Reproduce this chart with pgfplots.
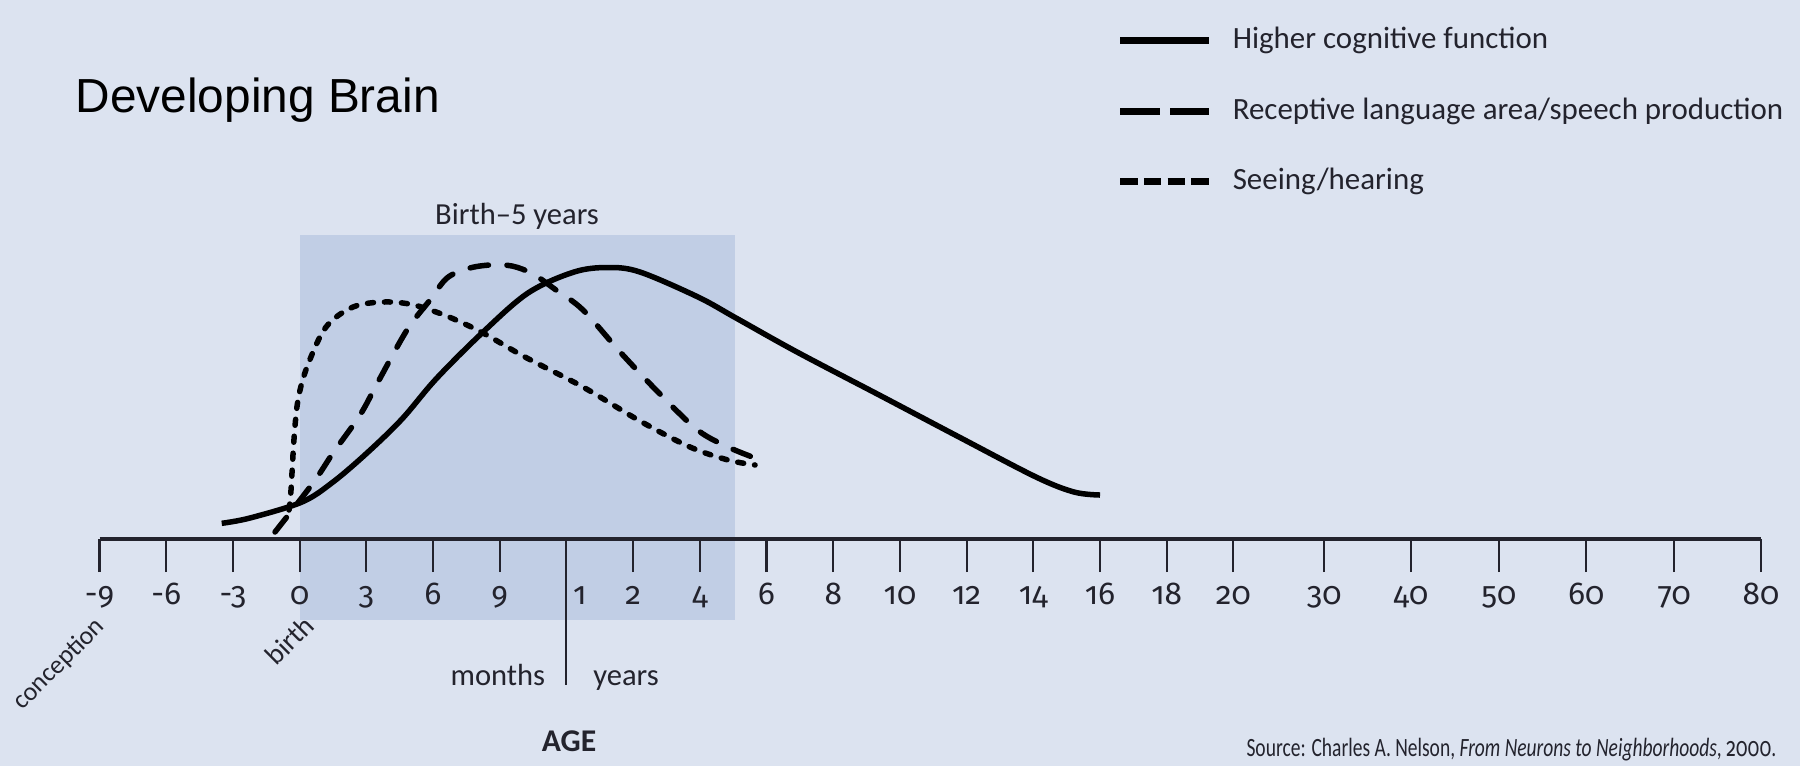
\documentclass[border=0pt]{standalone}
\usepackage{fontspec}
\setmainfont{Carlito}
\newfontfamily\numfont{Fira Sans}[Numbers={OldStyle,Proportional}]
\newfontfamily\titlefont{Liberation Sans}
\usepackage{pgfplots}
\usepackage{pgfplotstable}
\pgfplotsset{compat=1.18}

\definecolor{bgblue}{RGB}{220,227,240}
\definecolor{boxblue}{RGB}{193,206,229}
\definecolor{ink}{RGB}{35,35,45}

% x = position on the age scale (one unit per tick up to 20 years), y = development
\pgfplotstableread{
x      y
1.832  15.7
2.256  21
3.036  37
3.501  57
4.010  86
4.535  120
5.045  160
5.735  206
6.424  246
7.114  267
7.624  271.5
8.103  267
8.973  242
9.543  221
10.457 187
11.747 142
12.886 102
14.040 62
14.610 47
15.000 44
}\cognitive

\pgfplotstableread{
x      y
2.631  7
3.201  56
3.501  86
3.906  124
4.175  157
4.610  209
4.955  239
5.210  261
5.525  270.5
5.855  274
6.184  273
6.499  265
6.844  249
7.249  229
7.819  186
8.388  146
8.966  109
9.423  92
9.828  81
}\receptive

\pgfplotstableread{
x      y
2.841  29
2.871  49
2.916  100
2.976  139
3.111  172
3.396  212
3.801  232
4.265  237
4.715  234
5.240  222
5.750  206
6.379  182
7.249  152
8.103  118
8.853  92
9.423  79
9.828  74
}\seeing

\begin{document}
\begin{tikzpicture}
\begin{axis}[
    set layers,
    scale only axis,
    width=166.15mm, height=30mm,
    xmin=0, xmax=24.91, ymin=0, ymax=300,
    axis x line=bottom, axis y line=none,
    x axis line style={-, line width=1pt, draw=ink},
    clip=false,
    xtick={0,1,2,3,4,5,6,7,8,9,10,11,12,13,14,15,16,17,18.36,19.66,20.98,22.29,23.61,24.91},
    xticklabels={-9,-6,-3,0,3,6,9,{\hspace*{2.7mm}1},2,4,6,8,10,12,14,16,18,20,30,40,50,60,70,80},
    tick align=outside,
    major tick length=3.3mm,
    xtick style={line width=0.6pt, draw=ink},
    xticklabel style={font=\numfont\fontsize{9}{11}\selectfont, text=ink, anchor=base, yshift=-3.25mm},
    no markers,
]
\begin{pgfonlayer}{axis background}
\fill[bgblue] (axis cs:-1.492,-227) rectangle (axis cs:25.495,539);
\fill[boxblue] (axis cs:3,-81) rectangle (axis cs:9.528,304);
\end{pgfonlayer}
\coordinate (bgSW) at (axis cs:-1.492,-227);
\coordinate (bgNE) at (axis cs:25.495,539);

\addplot[smooth, tension=0.55, line width=0.55mm, black] table {\cognitive};
\addplot[smooth, tension=0.55, line width=0.55mm, black, line cap=round,
    dash pattern=on 1.85mm off 1.85mm] table {\receptive};
\addplot[smooth, tension=0.55, line width=0.55mm, black, line cap=round,
    dash pattern=on 0.6mm off 1.1mm] table {\seeing};

\draw[ink, line width=0.6pt] (axis cs:7,0) -- (axis cs:7,-146);

\node[anchor=base west, inner sep=0pt, font=\titlefont\fontsize{13.6}{15}\selectfont] at (axis cs:-0.367,427) {Developing Brain};

\node[font=\fontsize{8.7}{10}\selectfont, text=ink] at (axis cs:6.26,323) {Birth–5 years};

\draw[line width=0.7mm, black] (axis cs:15.30,499) -- (axis cs:16.64,499);
\draw[line width=0.7mm, black, dash pattern=on 4mm off 1mm] (axis cs:15.30,428) -- (axis cs:16.64,428);
\draw[line width=0.7mm, black, dash pattern=on 1.75mm off 0.63mm] (axis cs:15.30,358) -- (axis cs:16.64,358);
\begin{scope}[every node/.style={anchor=west, inner sep=0pt, font=\fontsize{8.8}{10}\selectfont, text=ink}]
\node at (axis cs:16.98,499) {Higher cognitive function};
\node at (axis cs:16.98,428) {Receptive language area/speech production};
\node at (axis cs:16.98,358) {Seeing/hearing};
\end{scope}

\node[rotate=45, anchor=east, font=\fontsize{7.4}{9}\selectfont, text=ink] at (axis cs:0.15,-75) {conception};
\node[rotate=45, anchor=east, font=\fontsize{8}{9}\selectfont, text=ink] at (axis cs:3.27,-73) {birth};

\node[anchor=base, font=\fontsize{8.7}{10}\selectfont, text=ink] at (axis cs:5.973,-146) {months};
\node[anchor=base, font=\fontsize{8.7}{10}\selectfont, text=ink] at (axis cs:7.894,-146) {years};
\node[font=\bfseries\fontsize{9}{10}\selectfont, text=ink] at (axis cs:7.039,-202) {AGE};

\node[anchor=east, inner sep=0pt, text=ink] at (axis cs:25.15,-211)
  {\scalebox{0.74}[1]{\fontsize{7.5}{9}\selectfont Source: Charles A. Nelson, \textit{From Neurons to Neighborhoods}, {\numfont 2000}.}};
\end{axis}
\pgfresetboundingbox
\useasboundingbox (bgSW) rectangle (bgNE);
\end{tikzpicture}
\end{document}
